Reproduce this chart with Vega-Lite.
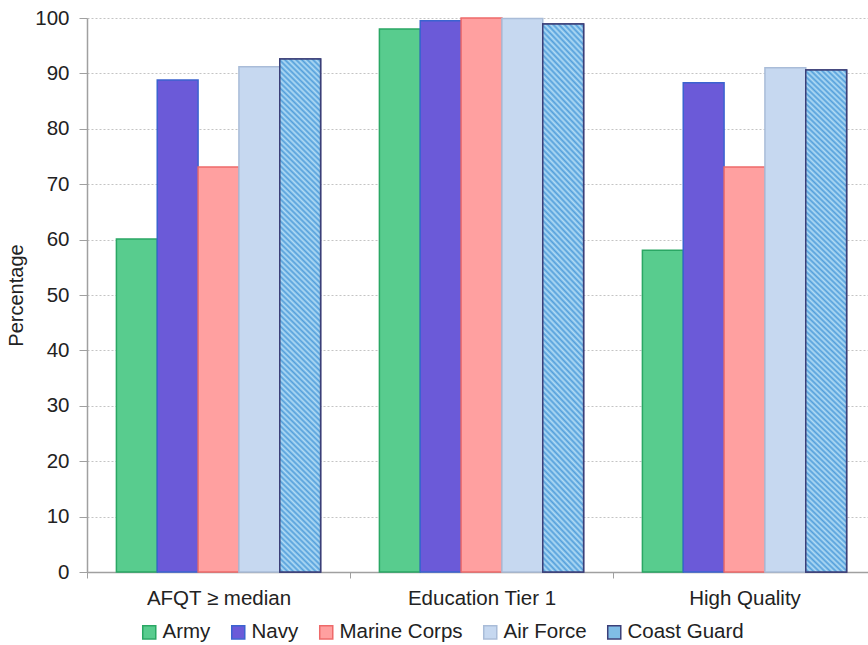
{
  "$schema": "https://vega.github.io/schema/vega-lite/v6.json",
  "autosize": "none",
  "width": 789,
  "height": 554,
  "padding": {"left": 87, "top": 18, "right": 0, "bottom": 73},
  "background": "white",
  "config": {
    "font": "Liberation Sans",
    "view": {"stroke": null},
    "axis": {"labelFont": "Liberation Sans", "titleFont": "Liberation Sans", "labelColor": "#222", "titleColor": "#222", "domainColor": "#a0a0a0", "tickColor": "#a0a0a0"}
  },
  "data": {
    "values": [
      {"metric": "AFQT ≥ median", "service": "Army", "pct": 60.1},
      {"metric": "AFQT ≥ median", "service": "Navy", "pct": 88.8},
      {"metric": "AFQT ≥ median", "service": "Marine Corps", "pct": 73.1},
      {"metric": "AFQT ≥ median", "service": "Air Force", "pct": 91.2},
      {"metric": "AFQT ≥ median", "service": "Coast Guard", "pct": 92.6},
      {"metric": "Education Tier 1", "service": "Army", "pct": 98.0},
      {"metric": "Education Tier 1", "service": "Navy", "pct": 99.5},
      {"metric": "Education Tier 1", "service": "Marine Corps", "pct": 100},
      {"metric": "Education Tier 1", "service": "Air Force", "pct": 99.9},
      {"metric": "Education Tier 1", "service": "Coast Guard", "pct": 98.9},
      {"metric": "High Quality", "service": "Army", "pct": 58.1},
      {"metric": "High Quality", "service": "Navy", "pct": 88.3},
      {"metric": "High Quality", "service": "Marine Corps", "pct": 73.1},
      {"metric": "High Quality", "service": "Air Force", "pct": 91.0},
      {"metric": "High Quality", "service": "Coast Guard", "pct": 90.6}
    ]
  },
  "encoding": {
    "x": {
      "field": "metric", "type": "nominal", "title": null,
      "sort": ["AFQT ≥ median", "Education Tier 1", "High Quality"],
      "scale": {"paddingInner": 0, "paddingOuter": 0},
      "axis": {"labelAngle": 0, "labelFontSize": 20.5, "labelPadding": 10, "tickBand": "extent", "tickSize": 6, "domainWidth": 1.5, "grid": false}
    },
    "xOffset": {
      "field": "service", "type": "nominal",
      "scale": {"domain": ["Army", "Navy", "Marine Corps", "Air Force", "Coast Guard"], "paddingInner": 0, "paddingOuter": 0.72}
    },
    "y": {
      "field": "pct", "type": "quantitative", "title": "Percentage",
      "scale": {"domain": [0, 100], "nice": false},
      "axis": {"values": [0,10,20,30,40,50,60,70,80,90,100], "labelFontSize": 20.5, "titleFontSize": 20, "titleFontWeight": "normal", "labelPadding": 10, "tickSize": 8, "titlePadding": 8, "domainWidth": 1.5, "gridColor": "#c4c4c4", "gridDash": [2, 2], "gridWidth": 1}
    }
  },
  "layer": [
    {
      "mark": {"type": "bar", "strokeWidth": 1.5, "fillOpacity": 1},
      "encoding": {
        "fill": {
          "field": "service", "type": "nominal",
          "scale": {"domain": ["Army", "Navy", "Marine Corps", "Air Force", "Coast Guard"], "range": ["#58cc8e", "#6b5ad8", "#ffa0a0", "#c6d8f0", "#80bde6"]},
          "legend": {"title": null, "orient": "none", "direction": "horizontal", "legendX": 52, "legendY": 604, "symbolType": "square", "symbolSize": 170, "symbolStrokeWidth": 1.5, "labelFontSize": 20.5, "labelColor": "#222", "labelOffset": 3, "columnPadding": 17, "padding": 0}
        },
        "stroke": {
          "field": "service", "type": "nominal",
          "scale": {"domain": ["Army", "Navy", "Marine Corps", "Air Force", "Coast Guard"], "range": ["#2aa764", "#3b63d0", "#ee6a6a", "#a9bcd8", "#3b3f78"]},
          "legend": null
        }
      }
    },
    {
      "transform": [{"filter": "datum.service === 'Coast Guard'"}],
      "mark": {
        "type": "bar", "strokeWidth": 1.5, "stroke": "#3b3f78",
        "fill": {
          "gradient": "linear", "x1": 0, "y1": 1, "x2": 0.0841, "y2": -0.072,
          "stops": [
            {"offset":0,"color":"#b2dcf5"},{"offset":0.005,"color":"#539fdb"},{"offset":0.01,"color":"#b2dcf5"},{"offset":0.015,"color":"#539fdb"},{"offset":0.02,"color":"#b2dcf5"},{"offset":0.025,"color":"#539fdb"},{"offset":0.03,"color":"#b2dcf5"},{"offset":0.035,"color":"#539fdb"},{"offset":0.04,"color":"#b2dcf5"},{"offset":0.045,"color":"#539fdb"},
            {"offset":0.05,"color":"#b2dcf5"},{"offset":0.055,"color":"#539fdb"},{"offset":0.06,"color":"#b2dcf5"},{"offset":0.065,"color":"#539fdb"},{"offset":0.07,"color":"#b2dcf5"},{"offset":0.075,"color":"#539fdb"},{"offset":0.08,"color":"#b2dcf5"},{"offset":0.085,"color":"#539fdb"},{"offset":0.09,"color":"#b2dcf5"},{"offset":0.095,"color":"#539fdb"},
            {"offset":0.1,"color":"#b2dcf5"},{"offset":0.105,"color":"#539fdb"},{"offset":0.11,"color":"#b2dcf5"},{"offset":0.115,"color":"#539fdb"},{"offset":0.12,"color":"#b2dcf5"},{"offset":0.125,"color":"#539fdb"},{"offset":0.13,"color":"#b2dcf5"},{"offset":0.135,"color":"#539fdb"},{"offset":0.14,"color":"#b2dcf5"},{"offset":0.145,"color":"#539fdb"},
            {"offset":0.15,"color":"#b2dcf5"},{"offset":0.155,"color":"#539fdb"},{"offset":0.16,"color":"#b2dcf5"},{"offset":0.165,"color":"#539fdb"},{"offset":0.17,"color":"#b2dcf5"},{"offset":0.175,"color":"#539fdb"},{"offset":0.18,"color":"#b2dcf5"},{"offset":0.185,"color":"#539fdb"},{"offset":0.19,"color":"#b2dcf5"},{"offset":0.195,"color":"#539fdb"},
            {"offset":0.2,"color":"#b2dcf5"},{"offset":0.205,"color":"#539fdb"},{"offset":0.21,"color":"#b2dcf5"},{"offset":0.215,"color":"#539fdb"},{"offset":0.22,"color":"#b2dcf5"},{"offset":0.225,"color":"#539fdb"},{"offset":0.23,"color":"#b2dcf5"},{"offset":0.235,"color":"#539fdb"},{"offset":0.24,"color":"#b2dcf5"},{"offset":0.245,"color":"#539fdb"},
            {"offset":0.25,"color":"#b2dcf5"},{"offset":0.255,"color":"#539fdb"},{"offset":0.26,"color":"#b2dcf5"},{"offset":0.265,"color":"#539fdb"},{"offset":0.27,"color":"#b2dcf5"},{"offset":0.275,"color":"#539fdb"},{"offset":0.28,"color":"#b2dcf5"},{"offset":0.285,"color":"#539fdb"},{"offset":0.29,"color":"#b2dcf5"},{"offset":0.295,"color":"#539fdb"},
            {"offset":0.3,"color":"#b2dcf5"},{"offset":0.305,"color":"#539fdb"},{"offset":0.31,"color":"#b2dcf5"},{"offset":0.315,"color":"#539fdb"},{"offset":0.32,"color":"#b2dcf5"},{"offset":0.325,"color":"#539fdb"},{"offset":0.33,"color":"#b2dcf5"},{"offset":0.335,"color":"#539fdb"},{"offset":0.34,"color":"#b2dcf5"},{"offset":0.345,"color":"#539fdb"},
            {"offset":0.35,"color":"#b2dcf5"},{"offset":0.355,"color":"#539fdb"},{"offset":0.36,"color":"#b2dcf5"},{"offset":0.365,"color":"#539fdb"},{"offset":0.37,"color":"#b2dcf5"},{"offset":0.375,"color":"#539fdb"},{"offset":0.38,"color":"#b2dcf5"},{"offset":0.385,"color":"#539fdb"},{"offset":0.39,"color":"#b2dcf5"},{"offset":0.395,"color":"#539fdb"},
            {"offset":0.4,"color":"#b2dcf5"},{"offset":0.405,"color":"#539fdb"},{"offset":0.41,"color":"#b2dcf5"},{"offset":0.415,"color":"#539fdb"},{"offset":0.42,"color":"#b2dcf5"},{"offset":0.425,"color":"#539fdb"},{"offset":0.43,"color":"#b2dcf5"},{"offset":0.435,"color":"#539fdb"},{"offset":0.44,"color":"#b2dcf5"},{"offset":0.445,"color":"#539fdb"},
            {"offset":0.45,"color":"#b2dcf5"},{"offset":0.455,"color":"#539fdb"},{"offset":0.46,"color":"#b2dcf5"},{"offset":0.465,"color":"#539fdb"},{"offset":0.47,"color":"#b2dcf5"},{"offset":0.475,"color":"#539fdb"},{"offset":0.48,"color":"#b2dcf5"},{"offset":0.485,"color":"#539fdb"},{"offset":0.49,"color":"#b2dcf5"},{"offset":0.495,"color":"#539fdb"},
            {"offset":0.5,"color":"#b2dcf5"},{"offset":0.505,"color":"#539fdb"},{"offset":0.51,"color":"#b2dcf5"},{"offset":0.515,"color":"#539fdb"},{"offset":0.52,"color":"#b2dcf5"},{"offset":0.525,"color":"#539fdb"},{"offset":0.53,"color":"#b2dcf5"},{"offset":0.535,"color":"#539fdb"},{"offset":0.54,"color":"#b2dcf5"},{"offset":0.545,"color":"#539fdb"},
            {"offset":0.55,"color":"#b2dcf5"},{"offset":0.555,"color":"#539fdb"},{"offset":0.56,"color":"#b2dcf5"},{"offset":0.565,"color":"#539fdb"},{"offset":0.57,"color":"#b2dcf5"},{"offset":0.575,"color":"#539fdb"},{"offset":0.58,"color":"#b2dcf5"},{"offset":0.585,"color":"#539fdb"},{"offset":0.59,"color":"#b2dcf5"},{"offset":0.595,"color":"#539fdb"},
            {"offset":0.6,"color":"#b2dcf5"},{"offset":0.605,"color":"#539fdb"},{"offset":0.61,"color":"#b2dcf5"},{"offset":0.615,"color":"#539fdb"},{"offset":0.62,"color":"#b2dcf5"},{"offset":0.625,"color":"#539fdb"},{"offset":0.63,"color":"#b2dcf5"},{"offset":0.635,"color":"#539fdb"},{"offset":0.64,"color":"#b2dcf5"},{"offset":0.645,"color":"#539fdb"},
            {"offset":0.65,"color":"#b2dcf5"},{"offset":0.655,"color":"#539fdb"},{"offset":0.66,"color":"#b2dcf5"},{"offset":0.665,"color":"#539fdb"},{"offset":0.67,"color":"#b2dcf5"},{"offset":0.675,"color":"#539fdb"},{"offset":0.68,"color":"#b2dcf5"},{"offset":0.685,"color":"#539fdb"},{"offset":0.69,"color":"#b2dcf5"},{"offset":0.695,"color":"#539fdb"},
            {"offset":0.7,"color":"#b2dcf5"},{"offset":0.705,"color":"#539fdb"},{"offset":0.71,"color":"#b2dcf5"},{"offset":0.715,"color":"#539fdb"},{"offset":0.72,"color":"#b2dcf5"},{"offset":0.725,"color":"#539fdb"},{"offset":0.73,"color":"#b2dcf5"},{"offset":0.735,"color":"#539fdb"},{"offset":0.74,"color":"#b2dcf5"},{"offset":0.745,"color":"#539fdb"},
            {"offset":0.75,"color":"#b2dcf5"},{"offset":0.755,"color":"#539fdb"},{"offset":0.76,"color":"#b2dcf5"},{"offset":0.765,"color":"#539fdb"},{"offset":0.77,"color":"#b2dcf5"},{"offset":0.775,"color":"#539fdb"},{"offset":0.78,"color":"#b2dcf5"},{"offset":0.785,"color":"#539fdb"},{"offset":0.79,"color":"#b2dcf5"},{"offset":0.795,"color":"#539fdb"},
            {"offset":0.8,"color":"#b2dcf5"},{"offset":0.805,"color":"#539fdb"},{"offset":0.81,"color":"#b2dcf5"},{"offset":0.815,"color":"#539fdb"},{"offset":0.82,"color":"#b2dcf5"},{"offset":0.825,"color":"#539fdb"},{"offset":0.83,"color":"#b2dcf5"},{"offset":0.835,"color":"#539fdb"},{"offset":0.84,"color":"#b2dcf5"},{"offset":0.845,"color":"#539fdb"},
            {"offset":0.85,"color":"#b2dcf5"},{"offset":0.855,"color":"#539fdb"},{"offset":0.86,"color":"#b2dcf5"},{"offset":0.865,"color":"#539fdb"},{"offset":0.87,"color":"#b2dcf5"},{"offset":0.875,"color":"#539fdb"},{"offset":0.88,"color":"#b2dcf5"},{"offset":0.885,"color":"#539fdb"},{"offset":0.89,"color":"#b2dcf5"},{"offset":0.895,"color":"#539fdb"},
            {"offset":0.9,"color":"#b2dcf5"},{"offset":0.905,"color":"#539fdb"},{"offset":0.91,"color":"#b2dcf5"},{"offset":0.915,"color":"#539fdb"},{"offset":0.92,"color":"#b2dcf5"},{"offset":0.925,"color":"#539fdb"},{"offset":0.93,"color":"#b2dcf5"},{"offset":0.935,"color":"#539fdb"},{"offset":0.94,"color":"#b2dcf5"},{"offset":0.945,"color":"#539fdb"},
            {"offset":0.95,"color":"#b2dcf5"},{"offset":0.955,"color":"#539fdb"},{"offset":0.96,"color":"#b2dcf5"},{"offset":0.965,"color":"#539fdb"},{"offset":0.97,"color":"#b2dcf5"},{"offset":0.975,"color":"#539fdb"},{"offset":0.98,"color":"#b2dcf5"},{"offset":0.985,"color":"#539fdb"},{"offset":0.99,"color":"#b2dcf5"},{"offset":0.995,"color":"#539fdb"},
            {"offset":1,"color":"#b2dcf5"}
          ]
        }
      }
    }
  ]
}
